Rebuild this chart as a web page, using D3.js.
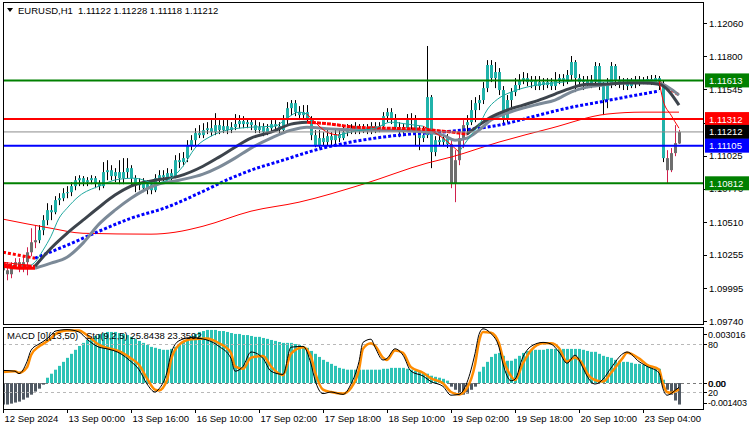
<!DOCTYPE html>
<html>
<head>
<meta charset="utf-8">
<script src="https://cdn.jsdelivr.net/npm/d3@7"></script>
<style>
  body { margin: 0; background: #fff; }
  svg { display: block; font-family: "Liberation Sans", Arial, sans-serif; }
</style>
</head>
<body>
<div id="chart"></div>
<script>
// EURUSD H1 — candles, [open, high, low, close]
const ohlc = [
  [1.10198,1.10260,1.10073,1.10135],[1.10135,1.10198,1.10057,1.10104],[1.10104,1.10198,1.10073,1.10174],
  [1.10174,1.10229,1.10151,1.10198],[1.10198,1.10229,1.10120,1.10151],[1.10151,1.10252,1.10120,1.10198],
  [1.10198,1.10314,1.10096,1.10275],[1.10275,1.10462,1.10244,1.10353],[1.10353,1.10486,1.10307,1.10369],
  [1.10369,1.10486,1.10346,1.10447],[1.10447,1.10564,1.10408,1.10525],[1.10525,1.10657,1.10486,1.10603],
  [1.10603,1.10642,1.10525,1.10587],[1.10587,1.10712,1.10571,1.10681],[1.10681,1.10735,1.10642,1.10696],
  [1.10696,1.10774,1.10673,1.10735],[1.10735,1.10790,1.10696,1.10743],[1.10743,1.10821,1.10712,1.10790],
  [1.10790,1.10868,1.10758,1.10836],[1.10836,1.10875,1.10790,1.10852],[1.10852,1.10868,1.10790,1.10821],
  [1.10821,1.10860,1.10790,1.10836],[1.10836,1.10875,1.10805,1.10852],[1.10852,1.10868,1.10774,1.10813],
  [1.10813,1.10836,1.10758,1.10790],[1.10790,1.10977,1.10774,1.10899],[1.10899,1.10992,1.10836,1.10914],
  [1.10914,1.10953,1.10836,1.10868],[1.10868,1.10930,1.10821,1.10899],[1.10899,1.10992,1.10805,1.10852],
  [1.10852,1.11008,1.10805,1.10899],[1.10899,1.11008,1.10852,1.10930],[1.10930,1.10953,1.10790,1.10852],
  [1.10852,1.10875,1.10743,1.10797],[1.10797,1.10852,1.10758,1.10821],[1.10821,1.10852,1.10743,1.10774],
  [1.10774,1.10836,1.10727,1.10805],[1.10805,1.10836,1.10727,1.10758],[1.10758,1.10883,1.10743,1.10852],
  [1.10852,1.10914,1.10821,1.10875],[1.10875,1.10914,1.10828,1.10860],[1.10860,1.10930,1.10836,1.10891],
  [1.10891,1.10922,1.10836,1.10868],[1.10868,1.11031,1.10852,1.10992],[1.10992,1.11047,1.10930,1.10977],
  [1.10977,1.11055,1.10945,1.11008],[1.11008,1.11148,1.10977,1.11109],[1.11109,1.11187,1.11070,1.11148],
  [1.11148,1.11241,1.11109,1.11203],[1.11203,1.11265,1.11164,1.11187],[1.11187,1.11280,1.11164,1.11226],
  [1.11226,1.11288,1.11195,1.11241],[1.11241,1.11304,1.11179,1.11210],[1.11210,1.11358,1.11187,1.11265],
  [1.11265,1.11304,1.11195,1.11226],[1.11226,1.11304,1.11203,1.11257],[1.11257,1.11320,1.11195,1.11226],
  [1.11226,1.11288,1.11203,1.11249],[1.11249,1.11351,1.11226,1.11273],[1.11273,1.11343,1.11241,1.11296],
  [1.11296,1.11335,1.11241,1.11273],[1.11273,1.11320,1.11241,1.11288],[1.11288,1.11320,1.11226,1.11265],
  [1.11265,1.11304,1.11203,1.11226],[1.11226,1.11288,1.11203,1.11249],[1.11249,1.11280,1.11179,1.11210],
  [1.11210,1.11273,1.11187,1.11241],[1.11241,1.11304,1.11210,1.11273],[1.11273,1.11304,1.11226,1.11257],
  [1.11257,1.11288,1.11195,1.11226],[1.11226,1.11343,1.11203,1.11304],[1.11304,1.11444,1.11273,1.11397],
  [1.11397,1.11460,1.11343,1.11436],[1.11436,1.11460,1.11335,1.11366],[1.11366,1.11413,1.11304,1.11343],
  [1.11343,1.11421,1.11320,1.11366],[1.11366,1.11421,1.11288,1.11320],[1.11320,1.11335,1.11148,1.11187],
  [1.11187,1.11226,1.11093,1.11109],[1.11109,1.11226,1.11086,1.11164],[1.11164,1.11210,1.11101,1.11133],
  [1.11133,1.11226,1.11101,1.11179],[1.11179,1.11210,1.11109,1.11148],[1.11148,1.11241,1.11117,1.11195],
  [1.11195,1.11226,1.11133,1.11164],[1.11164,1.11257,1.11148,1.11210],[1.11210,1.11273,1.11179,1.11241],
  [1.11241,1.11273,1.11195,1.11226],[1.11226,1.11288,1.11195,1.11257],[1.11257,1.11273,1.11195,1.11226],
  [1.11226,1.11273,1.11203,1.11249],[1.11249,1.11273,1.11195,1.11218],[1.11218,1.11288,1.11195,1.11257],
  [1.11257,1.11288,1.11203,1.11234],[1.11234,1.11288,1.11210,1.11257],[1.11257,1.11366,1.11226,1.11335],
  [1.11335,1.11397,1.11288,1.11366],[1.11366,1.11397,1.11273,1.11320],[1.11320,1.11351,1.11226,1.11249],
  [1.11249,1.11288,1.11171,1.11210],[1.11210,1.11273,1.11179,1.11241],[1.11241,1.11351,1.11210,1.11304],
  [1.11304,1.11358,1.11226,1.11320],[1.11320,1.11343,1.11109,1.11226],[1.11226,1.11257,1.11070,1.11164],
  [1.11164,1.11257,1.11133,1.11187],[1.11187,1.11881,1.11164,1.11483],[1.11483,1.11499,1.10930,1.11055],
  [1.11055,1.11179,1.11023,1.11148],[1.11148,1.11179,1.11101,1.11133],[1.11133,1.11195,1.11101,1.11164],
  [1.11164,1.11195,1.11086,1.11117],[1.11117,1.11148,1.10774,1.10813],[1.10813,1.11070,1.10665,1.10992],
  [1.10992,1.11210,1.10953,1.11164],[1.11164,1.11304,1.11086,1.11265],[1.11265,1.11343,1.11187,1.11288],
  [1.11288,1.11460,1.11265,1.11382],[1.11382,1.11483,1.11288,1.11436],[1.11436,1.11499,1.11382,1.11460],
  [1.11460,1.11600,1.11429,1.11553],[1.11553,1.11771,1.11522,1.11733],[1.11733,1.11771,1.11600,1.11631],
  [1.11631,1.11756,1.11553,1.11678],[1.11678,1.11709,1.11499,1.11538],[1.11538,1.11569,1.11273,1.11320],
  [1.11320,1.11499,1.11288,1.11460],[1.11460,1.11553,1.11397,1.11522],[1.11522,1.11631,1.11491,1.11577],
  [1.11577,1.11662,1.11538,1.11616],[1.11616,1.11678,1.11584,1.11631],[1.11631,1.11670,1.11569,1.11600],
  [1.11600,1.11647,1.11553,1.11616],[1.11616,1.11647,1.11538,1.11569],[1.11569,1.11647,1.11538,1.11600],
  [1.11600,1.11631,1.11538,1.11577],[1.11577,1.11631,1.11553,1.11600],[1.11600,1.11631,1.11538,1.11569],
  [1.11569,1.11678,1.11538,1.11616],[1.11616,1.11662,1.11584,1.11631],[1.11631,1.11662,1.11569,1.11608],
  [1.11608,1.11694,1.11584,1.11655],[1.11655,1.11803,1.11616,1.11756],[1.11756,1.11771,1.11522,1.11631],
  [1.11631,1.11662,1.11569,1.11600],[1.11600,1.11647,1.11538,1.11616],[1.11616,1.11647,1.11553,1.11584],
  [1.11584,1.11655,1.11553,1.11616],[1.11616,1.11756,1.11569,1.11725],[1.11725,1.11748,1.11538,1.11569],
  [1.11569,1.11600,1.11343,1.11460],[1.11460,1.11631,1.11397,1.11584],[1.11584,1.11756,1.11553,1.11725],
  [1.11725,1.11740,1.11569,1.11616],[1.11616,1.11647,1.11553,1.11584],[1.11584,1.11631,1.11538,1.11600],
  [1.11600,1.11631,1.11538,1.11569],[1.11569,1.11631,1.11553,1.11600],[1.11600,1.11647,1.11553,1.11584],
  [1.11584,1.11647,1.11569,1.11616],[1.11616,1.11639,1.11584,1.11608],[1.11608,1.11647,1.11584,1.11623],
  [1.11623,1.11655,1.11577,1.11600],[1.11600,1.11655,1.11584,1.11631],[1.11631,1.11647,1.11538,1.11569],
  [1.11569,1.11616,1.10977,1.11008],[1.11008,1.11070,1.10812,1.10914],[1.10914,1.11086,1.10899,1.11047],
  [1.11047,1.11265,1.11023,1.11125],[1.11122,1.11228,1.11118,1.11212]
];

// bars painted in the "down" scheme (gray body, crimson wick)
const grayRanges = [[0, 8], [112, 115], [166, 169]];

// moving averages: [bar, price, falling]
const maFast = [
  [0,1.10198,1],[4,1.10182,1],[7,1.10174,1],[8,1.10198,0],[10,1.10291,0],[12,1.10400,0],[14,1.10540,0],
  [16,1.10618,0],[19,1.10712,0],[24,1.10790,0],[29,1.10844,0],[33,1.10852,0],[38,1.10813,0],[42,1.10852,0],
  [45,1.10945,0],[48,1.11086,0],[52,1.11179,0],[56,1.11226,0],[62,1.11249,0],[68,1.11257,0],[71,1.11320,0],
  [74,1.11366,0],[76,1.11351,0],[78,1.11288,1],[81,1.11210,1],[84,1.11187,1],[88,1.11218,0],[93,1.11241,0],
  [97,1.11288,0],[101,1.11273,0],[105,1.11257,0],[110,1.11164,1],[114,1.11055,1],[117,1.11187,0],
  [119,1.11265,0],[121,1.11382,0],[124,1.11475,0],[127,1.11522,0],[130,1.11553,0],[135,1.11584,0],
  [140,1.11600,0],[145,1.11616,0],[150,1.11600,0],[155,1.11616,0],[160,1.11616,0],[164,1.11616,0],
  [165,1.11460,1],[167,1.11343,1],[169,1.11241,1]
];
const maMid = [
  [0,1.10182,1],[4,1.10166,1],[8,1.10166,1],[12,1.10307,0],[16,1.10423,0],[20,1.10525,0],[24,1.10626,0],
  [28,1.10720,0],[32,1.10790,0],[38,1.10836,0],[44,1.10868,0],[50,1.10945,0],[54,1.11016,0],[58,1.11093,0],
  [62,1.11164,0],[67,1.11210,0],[72,1.11273,0],[76,1.11288,0],[82,1.11273,1],[88,1.11249,1],[96,1.11241,1],
  [104,1.11234,1],[110,1.11218,1],[116,1.11195,1],[119,1.11265,0],[122,1.11327,0],[126,1.11382,0],
  [130,1.11421,0],[134,1.11460,0],[138,1.11507,0],[142,1.11553,0],[146,1.11584,0],[150,1.11584,0],
  [155,1.11592,0],[160,1.11592,0],[164,1.11584,0],[169,1.11421,0]
];
const maSlow = [
  [0,1.10166,1],[4,1.10151,1],[8,1.10151,1],[12,1.10190,0],[16,1.10236,0],[20,1.10346,0],[24,1.10494,0],
  [28,1.10603,0],[32,1.10696,0],[38,1.10797,0],[44,1.10836,0],[50,1.10883,0],[54,1.10938,0],[58,1.11008,0],
  [62,1.11086,0],[67,1.11164,0],[72,1.11226,0],[76,1.11249,0],[82,1.11234,0],[90,1.11226,0],[98,1.11226,0],
  [106,1.11210,0],[110,1.11187,0],[113,1.11148,0],[116,1.11164,0],[119,1.11226,0],[122,1.11304,0],
  [126,1.11358,0],[130,1.11397,0],[134,1.11429,0],[138,1.11460,0],[142,1.11522,0],[146,1.11561,0],
  [150,1.11577,0],[155,1.11592,0],[160,1.11600,0],[164,1.11592,0],[169,1.11499,0]
];
const maTrend = [
  [0,1.10275,1],[4,1.10252,1],[8,1.10229,1],[16,1.10330,0],[24,1.10439,0],[32,1.10540,0],[41,1.10626,0],
  [49,1.10735,0],[57,1.10852,0],[62,1.10914,0],[70,1.10992,0],[78,1.11070,0],[87,1.11133,0],[99,1.11187,0],
  [112,1.11218,0],[124,1.11265,0],[134,1.11343,0],[141,1.11397,0],[149,1.11444,0],[157,1.11491,0],
  [164,1.11530,0]
];
const maTrendDown = [[164,1.11600],[166,1.11561],[169,1.11499]];
const maLong = [
  [0,1.10533],[12,1.10462],[20,1.10423],[37,1.10416],[43,1.10431],[50,1.10478],[62,1.10595],[74,1.10665],
  [90,1.10805],[106,1.10969],[112,1.11016],[124,1.11133],[137,1.11241],[151,1.11351],[160,1.11366],[169,1.11366]
];

// horizontal levels
const levelPrices = [1.11613, 1.11312, 1.11212, 1.11105, 1.10812];
const levelKinds = ['support', 'resist', 'bid', 'pivot', 'support'];

// MACD(13,50) main values, one per bar
const macd = [
  -0.00118,-0.00118,-0.00113,-0.00107,-0.00102,-0.00091,-0.00080,-0.00064,-0.00047,-0.00031,-0.00009,
  0.00029,0.00051,0.00073,0.00094,0.00116,0.00138,0.00160,0.00182,0.00203,0.00220,
  0.00236,0.00247,0.00258,0.00269,0.00274,0.00280,0.00280,0.00280,0.00274,0.00269,
  0.00263,0.00253,0.00242,0.00231,0.00220,0.00209,0.00198,0.00193,0.00187,0.00182,
  0.00182,0.00187,0.00198,0.00209,0.00225,0.00242,0.00258,0.00269,0.00280,0.00285,
  0.00291,0.00291,0.00291,0.00285,0.00285,0.00280,0.00274,0.00269,0.00269,0.00263,
  0.00263,0.00258,0.00253,0.00253,0.00247,0.00242,0.00236,0.00231,0.00225,0.00220,
  0.00220,0.00220,0.00214,0.00209,0.00203,0.00193,0.00176,0.00160,0.00143,0.00127,
  0.00116,0.00105,0.00094,0.00083,0.00078,0.00073,0.00073,0.00073,0.00073,0.00073,
  0.00073,0.00073,0.00073,0.00073,0.00078,0.00078,0.00083,0.00083,0.00083,0.00083,
  0.00078,0.00073,0.00067,0.00062,0.00056,0.00051,0.00040,0.00034,0.00029,0.00023,0.00013,
  -0.00020,-0.00037,-0.00058,-0.00064,-0.00058,-0.00037,-0.00020,
  0.00062,0.00089,0.00116,0.00143,0.00160,0.00165,0.00149,0.00122,0.00122,0.00133,0.00149,0.00165,
  0.00176,0.00182,0.00182,0.00182,0.00182,0.00187,0.00187,0.00187,0.00187,0.00187,0.00187,0.00187,0.00187,0.00187,
  0.00182,0.00176,0.00171,0.00171,0.00160,0.00149,0.00143,0.00138,0.00127,0.00122,
  0.00116,0.00116,0.00111,0.00105,0.00105,0.00100,0.00094,0.00089,0.00083,0.00078,
  0.00018,-0.00037,-0.00064,-0.00096,-0.00118
];

// Stochastic(9,2,5), sampled bars
const stochBars = [0,3,4,6,7,9,10,12,13,16,19,21,24,26,29,32,34,36,38,39,41,42,44,47,51,54,57,58,60,62,65,67,70,
  72,75,77,78,80,82,85,87,89,90,92,93,95,96,98,100,102,105,107,110,112,114,116,118,119,120,122,124,125,127,128,
  130,132,135,137,139,141,143,145,146,148,150,152,155,156,159,161,164,165,166,167,168,169];
const stochD = [45,46,44,51,66,77,80,87,92,97,97,91,79,75,71,62,54,37,23,22,35,60,79,86,87,81,69,52,49,63,65,52,41,
  68,76,64,45,23,20,18,25,48,74,81,78,63,60,72,69,51,44,37,31,20,17,25,54,83,95,94,81,62,40,35,
  56,72,81,81,75,58,63,54,44,35,33,44,63,69,62,54,48,30,20,19,21,23.3592];
const stochK = [47,46,43,58,72,80,83,91,96,98,95,86,76,74,69,58,48,30,20,24,45,68,84,88,85,77,62,46,52,70,62,46,42,
  76,77,55,35,18,20,17,30,58,82,86,76,60,62,74,66,46,40,33,27,16,17,32,68,92,99,93,76,55,34,36,
  64,77,82,80,70,56,66,50,40,30,36,50,68,70,58,52,44,24,16,18,22,25.8438];

const priceTicks = [1.12060, 1.11800, 1.11545, 1.11285, 1.11025, 1.10770, 1.10510, 1.10255, 1.09995, 1.09740];
const timeTickBars = [0, 16, 32, 48, 64, 80, 96, 112, 128, 144, 160];
const timeTickLabels = ['12 Sep 2024', '13 Sep 00:00', '13 Sep 16:00', '16 Sep 10:00', '17 Sep 02:00',
  '17 Sep 18:00', '18 Sep 10:00', '19 Sep 02:00', '19 Sep 18:00', '20 Sep 10:00', '23 Sep 04:00'];

// ---------------------------------------------------------------
const W = 750, H = 430;
const L = 3, R = 703;
const mainTop = 2, mainBottom = 324;
const subTop = 327, subBottom = 409;

const TEAL = '#20b2aa', HIST = '#2cc3b6', GRAYBODY = '#6e6e6e', CRIMSON = '#d0204c';

const svg = d3.select('#chart').append('svg').attr('width', W).attr('height', H);

const x = d3.scaleLinear().domain([0, 1]).range([L, L + 4]);
const y = d3.scaleLinear().domain([1.09740, 1.12060]).range([321, 23]);
const yM = d3.scaleLinear().domain([-0.001403, 0.003016]).range([408.6, 328]);
const yS = d3.scaleLinear().domain([0, 100]).range([408, 328]);

const defs = svg.append('defs');
defs.append('clipPath').attr('id', 'clipMain').append('rect')
  .attr('x', L).attr('y', mainTop).attr('width', R - L).attr('height', mainBottom - mainTop);
defs.append('clipPath').attr('id', 'clipSub').append('rect')
  .attr('x', L).attr('y', subTop).attr('width', R - L).attr('height', subBottom - subTop);

const isGray = i => grayRanges.some(r => i >= r[0] && i <= r[1]);

// ---- main window
const main = svg.append('g').attr('clip-path', 'url(#clipMain)');

// candles
const candles = main.append('g');
ohlc.forEach((b, i) => {
  const [o, h, l, c] = b;
  const cx = Math.round(x(i)) + 0.5;
  const gray = isGray(i);
  candles.append('line')
    .attr('x1', cx).attr('x2', cx).attr('y1', y(h)).attr('y2', y(l))
    .attr('stroke', gray ? CRIMSON : '#000').attr('stroke-width', 1);
  const top = Math.min(y(o), y(c)), bot = Math.max(y(o), y(c));
  candles.append('rect')
    .attr('x', cx - 1.5).attr('width', 3)
    .attr('y', top).attr('height', Math.max(1, bot - top))
    .attr('fill', gray ? GRAYBODY : TEAL);
});

const line = d3.line().x(d => x(d[0])).y(d => y(d[1])).curve(d3.curveMonotoneX);

function coloredPaths(g, pts, upColor, downColor, width, dash, downDash) {
  const runs = [];
  for (let k = 1; k < pts.length; k++) {
    const f = pts[k][2] || 0;
    if (!runs.length || runs[runs.length - 1].f !== f) runs.push({ f, pts: [pts[k - 1]] });
    runs[runs.length - 1].pts.push(pts[k]);
  }
  runs.forEach(r => {
    g.append('path').attr('d', line(r.pts)).attr('fill', 'none')
      .attr('stroke', r.f ? downColor : upColor).attr('stroke-width', width)
      .attr('stroke-dasharray', (r.f ? downDash : dash) || null);
  });
}

const mas = main.append('g');
mas.append('path').attr('d', line(maLong)).attr('fill', 'none').attr('stroke', '#ff0000').attr('stroke-width', 1);
coloredPaths(mas, maTrend, '#0000ff', '#ff0000', 3, '3,2', '3,2');
mas.append('path').attr('d', line(maTrendDown)).attr('fill', 'none')
  .attr('stroke', '#ff0000').attr('stroke-width', 3).attr('stroke-dasharray', '3,2');
coloredPaths(mas, maSlow, '#7c8a98', '#ff0000', 3);
coloredPaths(mas, maMid, '#3d444c', '#ff0000', 3, null, '4,1');
coloredPaths(mas, maFast, '#20a89f', '#ff0000', 1);

// horizontal levels
const levelColor = { support: '#008000', resist: '#ff0000', bid: '#8c8c8c', pivot: '#0000ff' };
const levels = svg.append('g');
levelPrices.forEach((p, k) => {
  const kind = levelKinds[k];
  levels.append('line')
    .attr('x1', L).attr('x2', R).attr('y1', y(p)).attr('y2', y(p))
    .attr('stroke', levelColor[kind]).attr('stroke-width', kind === 'bid' ? 1 : 2);
});

// header
svg.append('path').attr('d', 'M7,8 L13,8 L10,12 Z').attr('fill', '#000');
svg.append('text').attr('x', 18).attr('y', 14).attr('font-size', 9.5).text('EURUSD,H1');
svg.append('text').attr('x', 78).attr('y', 14).attr('font-size', 9.5).text('1.11122 1.11228 1.11118 1.11212');

// ---- sub window: MACD + Stochastic
const sub = svg.append('g').attr('clip-path', 'url(#clipSub)');
sub.selectAll('rect.h').data(macd).enter().append('rect')
  .attr('x', (d, i) => Math.round(x(i)) - 1)
  .attr('width', 3)
  .attr('y', d => Math.min(yM(d), yM(0)))
  .attr('height', d => Math.abs(yM(d) - yM(0)))
  .attr('fill', d => d >= 0 ? HIST : '#505963');

[80, 20].forEach(v => {
  sub.append('line').attr('x1', L).attr('x2', R).attr('y1', yS(v) + 0.5).attr('y2', yS(v) + 0.5)
    .attr('stroke', '#b8b8b8').attr('stroke-dasharray', '3,3');
});
sub.append('line').attr('x1', L).attr('x2', R).attr('y1', yM(0) + 0.5).attr('y2', yM(0) + 0.5)
  .attr('stroke', '#7a7a7a').attr('stroke-dasharray', '3,3');

const sLine = vals => d3.line().x((d, k) => x(stochBars[k])).y(d => yS(d)).curve(d3.curveMonotoneX)(vals);
sub.append('path').attr('d', sLine(stochD)).attr('fill', 'none').attr('stroke', '#ff8c00').attr('stroke-width', 2.5);
sub.append('path').attr('d', sLine(stochK)).attr('fill', 'none').attr('stroke', '#000').attr('stroke-width', 1);

svg.append('text').attr('x', 7).attr('y', 339).attr('font-size', 9.5).text('MACD [0](13,50)');
svg.append('text').attr('x', 86).attr('y', 339).attr('font-size', 9.5).text('Sto(9,2,5) 25.8438 23.3592');

// ---- frames
svg.append('rect').attr('x', L + 0.5).attr('y', mainTop + 0.5).attr('width', R - L).attr('height', mainBottom - mainTop)
  .attr('fill', 'none').attr('stroke', '#000');
svg.append('rect').attr('x', L + 0.5).attr('y', subTop + 0.5).attr('width', R - L).attr('height', subBottom - subTop)
  .attr('fill', 'none').attr('stroke', '#000');

// ---- price axis
const pAxis = svg.append('g');
priceTicks.forEach(p => {
  pAxis.append('line').attr('x1', R).attr('x2', R + 4).attr('y1', Math.round(y(p)) + 0.5).attr('y2', Math.round(y(p)) + 0.5)
    .attr('stroke', '#000');
  pAxis.append('text').attr('x', 709).attr('y', y(p) + 3.5).attr('font-size', 9.5).text(d3.format('.5f')(p));
});
const boxColor = { support: '#008000', resist: '#ff0000', bid: '#000000', pivot: '#0000ff' };
levelPrices.forEach((p, k) => {
  pAxis.append('rect').attr('x', R + 2).attr('y', y(p) - 7).attr('width', 44).attr('height', 14)
    .attr('fill', boxColor[levelKinds[k]]);
  pAxis.append('text').attr('x', 709).attr('y', y(p) + 3.5).attr('font-size', 9.5).attr('fill', '#fff')
    .text(d3.format('.5f')(p));
});

// ---- sub axis
const subLabels = [
  { t: '0.003016', yy: yM(0.003016) + 6 },
  { t: '80', yy: yS(80) },
  { t: '0.00', yy: yM(0) },
  { t: '20', yy: yS(20) },
  { t: '-0.001403', yy: yM(-0.001403) - 6 }
];
subLabels.forEach(s => {
  pAxis.append('line').attr('x1', R).attr('x2', R + 4).attr('y1', Math.round(s.yy) + 0.5).attr('y2', Math.round(s.yy) + 0.5)
    .attr('stroke', '#000');
  pAxis.append('text').attr('x', 708).attr('y', s.yy + 3.5).attr('font-size', 9)
    .attr('letter-spacing', s.t.length > 8 ? -0.2 : 0).text(s.t);
});
pAxis.append('text').attr('x', 708.6).attr('y', yM(0) + 3.5).attr('font-size', 9).text('0.00');

// ---- time axis
const tAxis = svg.append('g');
timeTickBars.forEach((b, k) => {
  const tx = Math.round(x(b)) + 0.5;
  tAxis.append('line').attr('x1', tx).attr('x2', tx).attr('y1', subBottom).attr('y2', subBottom + 4).attr('stroke', '#000');
  tAxis.append('text').attr('x', tx + 1).attr('y', 422).attr('font-size', 9.5).text(timeTickLabels[k]);
});
</script>
</body>
</html>
